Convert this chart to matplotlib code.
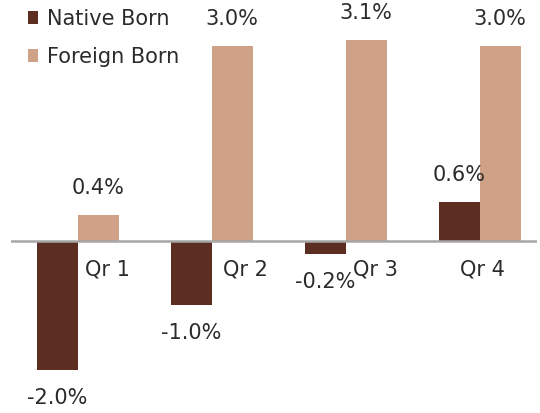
import numpy as np
import matplotlib.pyplot as plt

# quarterly growth, percent
quarters = ['Qr 1', 'Qr 2', 'Qr 3', 'Qr 4']
native_born = [-2.0, -1.0, -0.2, 0.6]
foreign_born = [0.4, 3.0, 3.1, 3.0]

native_col = '#5C2E22'
foreign_col = '#CFA187'
txt_col = '#2b2b2b'

fig = plt.figure(figsize=(5.4, 4.13), dpi=100)
ax = fig.add_axes([0.02, 0.0, 0.975, 1.0])

x = np.arange(len(quarters))
w = 0.305

nb = ax.bar(x - w/2, native_born, w, color=native_col, label='Native Born', zorder=2)
fb = ax.bar(x + w/2, foreign_born, w, color=foreign_col, label='Foreign Born', zorder=2)

# zero line
ax.axhline(0, color='#a6a6a6', lw=1.8, zorder=3)

# data labels
for bars, vals in [(nb, native_born), (fb, foreign_born)]:
  for b, v in zip(bars, vals):
    off = 12 if v >= 0 else -13
    ax.annotate('%.1f%%' % v, (b.get_x() + b.get_width()/2, v),
                xytext=(0, off), textcoords='offset points',
                ha='center', va='bottom' if v >= 0 else 'top',
                fontsize=15, color=txt_col)

# category labels sit just under the zero line, shifted right like the original
label_shift = [0.22, 0.25, 0.22, 0.02]
for i, q in enumerate(quarters):
  ax.annotate(q, (x[i] + label_shift[i], 0), xytext=(0, -14),
              textcoords='offset points', ha='center', va='top',
              fontsize=15, color=txt_col)

ax.set_xlim(-0.5, 3.43)
ax.set_ylim(-2.66, 3.71)
ax.axis('off')

ax.legend(loc='upper left', bbox_to_anchor=(0.005, 1.014), frameon=False,
          fontsize=15, handlelength=0.5, handleheight=0.6, handletextpad=0.4,
          labelspacing=0.85, borderaxespad=0.3, labelcolor=txt_col)

plt.savefig('out.png', dpi=100)
